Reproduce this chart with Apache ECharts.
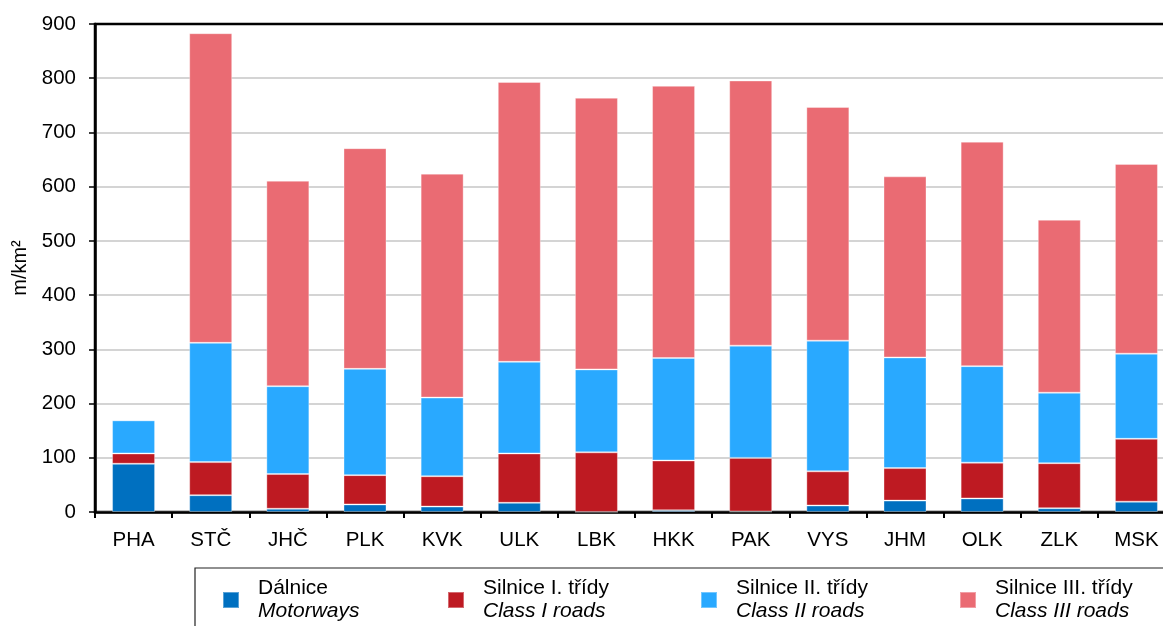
<!DOCTYPE html>
<html>
<head>
<meta charset="utf-8">
<script src="https://cdn.jsdelivr.net/npm/echarts@6/dist/echarts.min.js"></script>
<style>
html,body{margin:0;padding:0;background:#fff;}
#chart{width:1163px;height:626px;}
</style>
</head>
<body>
<div id="chart"></div>
<script>
var categories = ['PHA','STČ','JHČ','PLK','KVK','ULK','LBK','HKK','PAK','VYS','JHM','OLK','ZLK','MSK'];
var motorways = [89, 31, 6, 14, 10, 17, 0, 3, 0.8, 12, 21, 25, 7, 19];
var class1 = [19, 61, 64, 54, 56, 91, 110, 92, 99, 63, 60, 66, 83, 116];
var class2 = [61, 220, 162, 196, 145, 169, 153, 189, 207, 241, 204, 178, 130, 157];
var class3 = [0, 571, 379, 407, 413, 516, 501, 502, 489, 431, 334, 414, 319, 350];
var yTicks = [0, 100, 200, 300, 400, 500, 600, 700, 800, 900];
var seriesNames = ['Dálnice', 'Silnice I. třídy', 'Silnice II. třídy', 'Silnice III. třídy'];
var seriesNamesEn = ['Motorways', 'Class I roads', 'Class II roads', 'Class III roads'];
var colors = ['#0070C0', '#BE1A22', '#29A9FF', '#EA6B73'];
var yAxisTitle = 'm/km²';

var FONT = '"Liberation Sans", Arial, sans-serif';
var chart = echarts.init(document.getElementById('chart'), null, {renderer: 'canvas'});

var dataSets = [motorways, class1, class2, class3];
var series = dataSets.map(function (d, i) {
  return {
    name: seriesNames[i],
    type: 'bar',
    stack: 'total',
    barWidth: 43,
    data: d,
    itemStyle: {color: colors[i], borderColor: 'rgba(255,255,255,0.35)', borderWidth: 1},
    emphasis: {disabled: true}
  };
});

var legendLefts = [222, 447, 700, 959];
var legends = seriesNames.map(function (n, i) {
  return {
    data: [n],
    left: legendLefts[i],
    top: 578,
    padding: 0,
    itemWidth: 16,
    itemHeight: 16,
    icon: 'rect',
    selectedMode: false,
    formatter: function (name) {
      return '{a|' + name + '}\n{b|' + seriesNamesEn[seriesNames.indexOf(name)] + '}';
    },
    textStyle: {
      fontFamily: FONT,
      color: '#000',
      rich: {
        a: {fontSize: 21, lineHeight: 23, fontFamily: FONT, color: '#000', padding: [0, 0, 0, 14]},
        b: {fontSize: 21, lineHeight: 23, fontFamily: FONT, fontStyle: 'italic', color: '#000', padding: [0, 0, 0, 14]}
      }
    }
  };
});

var splitColors = yTicks.map(function (v) { return v === 900 ? '#000' : '#c6c6c6'; });

chart.setOption({
  animation: false,
  backgroundColor: '#fff',
  grid: {left: 95, top: 24, width: 1080, height: 488, outerBoundsMode: 'none', containLabel: false, show: true, borderColor: '#000', borderWidth: 2.5, backgroundColor: 'transparent'},
  legend: legends,
  graphic: [{
    type: 'rect',
    left: 192.5,
    top: 565.5,
    shape: {width: 1000, height: 100},
    style: {fill: 'none', stroke: '#222', lineWidth: 1.2},
    silent: true,
    z: -1
  }],
  xAxis: {
    type: 'category',
    data: categories,
    boundaryGap: true,
    axisLine: {lineStyle: {color: '#000', width: 2.5}},
    axisTick: {show: true, interval: 0, alignWithLabel: false, length: 6, lineStyle: {color: '#000', width: 2}},
    axisLabel: {interval: 0, color: '#000', fontSize: 20.5, fontFamily: FONT, margin: 18, hideOverlap: false}
  },
  yAxis: {
    type: 'value',
    min: 0,
    max: 900,
    interval: 100,
    name: yAxisTitle,
    nameLocation: 'middle',
    nameRotate: 90,
    nameGap: 65,
    nameTextStyle: {color: '#000', fontSize: 20, fontFamily: FONT},
    axisLine: {show: true, lineStyle: {color: '#000', width: 2.5}},
    axisTick: {show: true, length: 6, lineStyle: {color: '#000', width: 1.5}},
    axisLabel: {
      color: '#000', fontSize: 20.5, fontFamily: FONT, margin: 19,
      formatter: function (v) { return yTicks.indexOf(v) >= 0 ? String(v) : ''; }
    },
    splitLine: {show: true, lineStyle: {color: splitColors, width: 1.5}}
  },
  series: series
});
</script>
</body>
</html>
